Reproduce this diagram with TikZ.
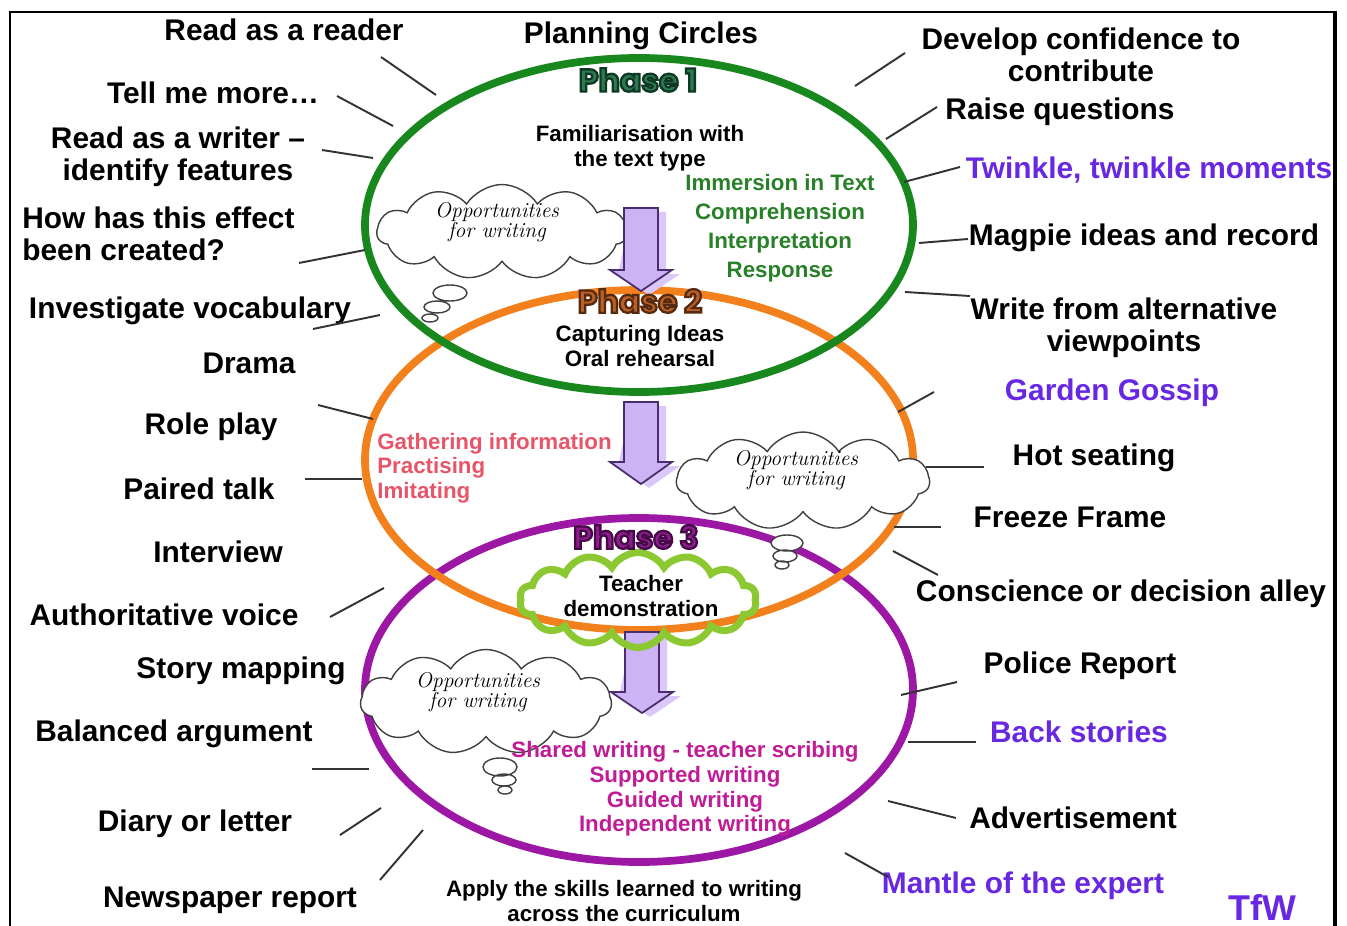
\documentclass[tikz,border=0pt]{standalone}
\usepackage{fontspec}
\usepackage{tikz}
\usetikzlibrary{shapes.symbols}
\setsansfont{Liberation Sans}
\newfontfamily\phasefont{Poppins}
\definecolor{ringgreen}{RGB}{24,136,30}
\definecolor{ringorange}{RGB}{242,128,28}
\definecolor{ringpurple}{RGB}{156,24,164}
\definecolor{textgreen}{RGB}{40,128,40}
\definecolor{textred}{RGB}{232,84,104}
\definecolor{textpink}{RGB}{192,28,150}
\definecolor{ideaviolet}{RGB}{104,40,226}
\definecolor{arrowfill}{RGB}{204,180,244}
\definecolor{arrowedge}{RGB}{75,45,110}
\definecolor{arrowshade}{RGB}{218,200,250}
\definecolor{leafgreen}{RGB}{140,200,50}
\definecolor{phaseone}{RGB}{44,122,80}
\definecolor{phasetwo}{RGB}{184,98,40}
\definecolor{phasethree}{RGB}{142,30,142}

\begin{document}
\begin{tikzpicture}[x=0.02cm, y=-0.02cm,
    lbl/.style={font=\sffamily\bfseries\fontsize{17}{18.2}\selectfont, inner sep=0pt, align=center},
    small/.style={font=\sffamily\bfseries\fontsize{12.7}{14}\selectfont, inner sep=0pt, align=center},
    hand/.style={font=\rmfamily\itshape\fontsize{12.2}{11.4}\selectfont, inner sep=0pt, align=center},
    phase/.style={font=\phasefont\bfseries\fontsize{18}{20}\selectfont, inner sep=0pt},
    spoke/.style={draw=black!80, line width=1.1pt},
    ring/.style={line width=4.4pt},
    thought/.style={cloud, cloud puffs=11, cloud puff arc=115, cloud ignores aspect, draw=black!75, fill=white, line width=0.8pt, inner sep=0pt},
    bubble/.style={draw=black!75, fill=white, line width=0.8pt}]
    % Planning circles: three phases with the activities round them
    \useasboundingbox (0,0) rectangle (1347,926);

    \draw [ring, ringpurple] (639,690) ellipse (274 and 172);
    \draw [ring, ringorange] (639,460) ellipse (274 and 170);
    \draw [ring, ringgreen] (639,225) ellipse (274 and 167);

    \node (cloud1) at (502,232) [thought, minimum width=5cm, minimum height=1.9cm] {};
    \node (cloud2) at (803,481) [thought, minimum width=5.06cm, minimum height=1.96cm] {};
    \node (cloud3) at (486,702) [thought, minimum width=5.02cm, minimum height=2.1cm] {};
    \draw [bubble] (450,293) ellipse (17 and 8) (437,307) ellipse (13 and 6) (430,318) ellipse (8 and 4);
    \draw [bubble] (787,543) ellipse (16 and 8) (785,556) ellipse (12 and 6) (782,565) ellipse (7 and 4);
    \draw [bubble] (500,767) ellipse (17 and 9) (504,780) ellipse (12 and 6) (505,790) ellipse (7 and 4);

    \foreach \cx/\ya/\yb/\yc in {641/208/270/291, 641/402/462/484, 642/632/692/713} {
        \fill [arrowshade] (\cx-10,\ya+4) -- (\cx+25,\ya+4) -- (\cx+25,\yb+4) -- (\cx+39,\yb+4) -- (\cx+8,\yc+4) -- (\cx-23,\yb+4) -- cycle;
        \draw [arrowedge, fill=arrowfill, line width=1pt] (\cx-17,\ya) -- (\cx+17,\ya) -- (\cx+17,\yb) -- (\cx+31,\yb) -- (\cx,\yc) -- (\cx-31,\yb) -- (\cx-17,\yb) -- cycle;
    }

    \node (teachcloud) at (638,600) [cloud, cloud puffs=14, cloud puff arc=120, cloud ignores aspect, draw=leafgreen, line width=4pt, minimum width=4.74cm, minimum height=1.9cm] {};

    \node (opp1) at (497,222) [hand] {Opportunities\\for writing};
    \node (opp2) at (796,470) [hand] {Opportunities\\for writing};
    \node (opp3) at (478,692) [hand] {Opportunities\\for writing};

    \foreach \ph/\px/\py/\fc/\ec in {1/638/80/phaseone/0.06 0.22 0.14, 2/640/301/phasetwo/0.34 0.16 0.06, 3/636/537/phasethree/0.27 0.04 0.28}
        \node (phase\ph) at (\px,\py) [phase, text=\fc] {\special{pdf:literal direct \ec\space RG 1.3 w 2 Tr}Phase \ph\special{pdf:literal direct 0 Tr}};

    \node (title) at (641,36) [lbl] {Planning Circles};
    \node (familiar) at (640,148) [small] {Familiarisation with\\the text type};
    \node (immersion) at (780,228) [small, text=textgreen, font=\sffamily\bfseries\fontsize{12.7}{16.6}\selectfont] {Immersion in Text\\Comprehension\\Interpretation\\Response};
    \node (capture) at (640,346) [small] {Capturing Ideas\\Oral rehearsal};
    \node (gather) at (377,468) [small, anchor=west, align=left, text=textred] {Gathering information\\Practising\\Imitating};
    \node (teacher) at (641,596) [small] {Teacher\\demonstration};
    \node (shared) at (685,789) [small, text=textpink] {Shared writing - teacher scribing\\Supported writing\\Guided writing\\Independent writing};
    \node (apply) at (624,901) [small] {Apply the skills learned to writing\\across the curriculum};

    \node (reader) at (284,30) [lbl] {Read as a reader};
    \node (tellmore) at (213,93) [lbl] {Tell me more…};
    \node (writer) at (178,157) [lbl] {Read as a writer –\\identify features};
    \node (effect) at (22,234) [lbl, anchor=west, align=left] {How has this effect\\been created?};
    \node (vocab) at (190,311) [lbl] {Investigate vocabulary};
    \node (drama) at (249,363) [lbl] {Drama};
    \node (roleplay) at (211,427) [lbl] {Role play};
    \node (paired) at (199,489) [lbl] {Paired talk};
    \node (interview) at (218,552) [lbl] {Interview};
    \node (voice) at (164,615) [lbl] {Authoritative voice};
    \node (mapping) at (241,671) [lbl] {Story mapping};
    \node (argument) at (174,734) [lbl] {Balanced argument};
    \node (diary) at (195,824) [lbl] {Diary or letter};
    \node (newspaper) at (230,900) [lbl] {Newspaper report};

    \node (confidence) at (1081,55) [lbl] {Develop confidence to\\contribute};
    \node (questions) at (1060,112) [lbl] {Raise questions};
    \node (twinkle) at (1149,170) [lbl, text=ideaviolet] {Twinkle, twinkle moments};
    \node (magpie) at (1144,238) [lbl] {Magpie ideas and record};
    \node (viewpoints) at (1124,328) [lbl] {Write from alternative\\viewpoints};
    \node (gossip) at (1112,393) [lbl, text=ideaviolet] {Garden Gossip};
    \node (hotseat) at (1094,458) [lbl] {Hot seating};
    \node (freeze) at (1070,517) [lbl] {Freeze Frame};
    \node (alley) at (1121,594) [lbl] {Conscience or decision alley};
    \node (police) at (1080,666) [lbl] {Police Report};
    \node (backstories) at (1079,732) [lbl, text=ideaviolet] {Back stories};
    \node (advert) at (1073,818) [lbl] {Advertisement};
    \node (mantle) at (1023,886) [lbl, text=ideaviolet] {Mantle of the expert};
    \node (tfw) at (1262,908) [lbl, text=ideaviolet, font=\sffamily\bfseries\fontsize{20.4}{22}\selectfont] {TfW};

    \foreach \i/\ax/\ay/\bx/\by in {1/381/57/436/95, 2/337/96/393/126, 3/322/150/373/158,
        4/299/263/365/250, 5/313/329/380/315, 6/318/405/373/419, 7/305/479/362/479,
        8/330/617/384/588, 9/312/769/369/769, 10/340/835/381/808, 11/380/880/423/830,
        12/855/86/905/53, 13/886/139/937/107, 14/904/182/960/167, 15/919/243/968/239,
        16/905/292/970/296, 17/898/412/934/392, 18/926/467/984/467, 19/894/527/941/527,
        20/893/551/938/575, 21/901/695/957/682, 22/908/742/976/742, 23/888/801/956/818,
        24/845/853/888/877} {
        \coordinate (s\i) at (\ax,\ay);
        \coordinate (t\i) at (\bx,\by);
        \draw [spoke] (s\i) -- (t\i);
    }

    \draw [line width=1.3pt] (10,940) -- (10,12) -- (1335,12);
    \draw [line width=2.4pt] (1335,11) -- (1335,940);
\end{tikzpicture}
\end{document}
